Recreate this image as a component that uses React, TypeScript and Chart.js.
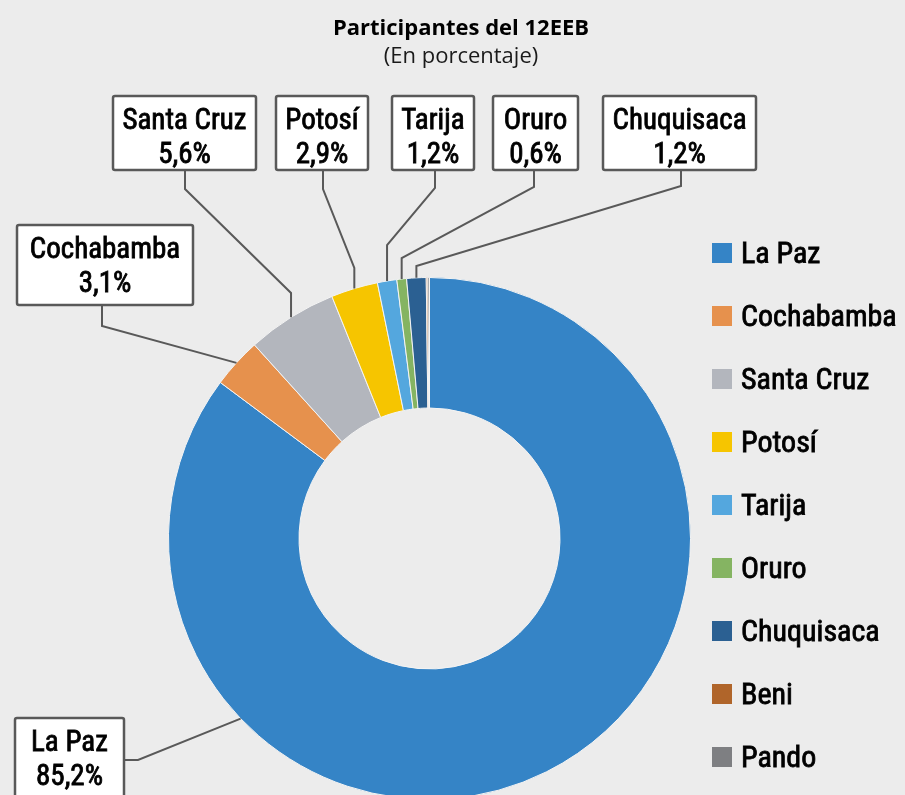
import React, { useEffect, useRef } from "react";
import { Chart, registerables } from "chart.js";

Chart.register(...registerables);

const chartTitle = "Participantes del 12EEB";
const chartSubtitle = "(En porcentaje)";
const categories = ["La Paz", "Cochabamba", "Santa Cruz", "Potosí", "Tarija", "Oruro", "Chuquisaca", "Beni", "Pando"];
const values = [85.2, 3.1, 5.6, 2.9, 1.2, 0.6, 1.2, 0.1, 0.1];
const valueLabels = ["85,2%", "3,1%", "5,6%", "2,9%", "1,2%", "0,6%", "1,2%", "0,1%", "0,1%"];
const colors = ["#3584C6", "#E6914D", "#B3B6BD", "#F6C500", "#54A7DE", "#85B462", "#2B6092", "#B0652A", "#7E7F82"];

// callout layout (box rect x,y,w,h; leader points; where on the arc the leader ends)
const callouts = [
  { i: 0, box: [15, 718, 109, 82], pts: [[124, 760], [138, 760]], elbowY: null, frac: 0.738 },
  { i: 1, box: [17, 225, 176, 80], pts: [[102, 305], [102, 326]], elbowY: null, frac: 0.5 },
  { i: 2, box: [113, 96, 143, 74], pts: [[185, 170], [185, 189]], elbowY: 293, frac: 0.5 },
  { i: 3, box: [276, 96, 92, 74], pts: [[323, 170], [323, 189]], elbowY: 268, frac: 0.5 },
  { i: 4, box: [392, 96, 82, 74], pts: [[435, 170], [435, 188]], elbowY: 245, frac: 0.5 },
  { i: 5, box: [493, 96, 85, 74], pts: [[534, 170], [534, 187]], elbowY: 258, frac: 0.5 },
  { i: 6, box: [603, 96, 153, 74], pts: [[681, 170], [681, 186]], elbowY: 266, frac: 0.5 },
];

const NARROW = "'Liberation Sans Narrow', 'Roboto Condensed', 'DejaVu Sans Condensed', sans-serif";
const BG = "#ECECEC";
const LINE = "#595959";

function heavyText(ctx: CanvasRenderingContext2D, s: string, x: number, y: number) {
  ctx.fillText(s, x, y);
  ctx.strokeText(s, x, y);
}

const decorPlugin = {
  id: "decor",
  beforeDraw(chart: any) {
    const ctx = chart.ctx;
    ctx.save();
    ctx.fillStyle = BG;
    ctx.fillRect(0, 0, chart.width, chart.height);
    ctx.restore();
  },
  afterDatasetsDraw(chart: any) {
    const ctx = chart.ctx;
    const meta = chart.getDatasetMeta(0);
    ctx.save();
    // title
    ctx.fillStyle = "#000";
    ctx.textAlign = "center";
    ctx.textBaseline = "alphabetic";
    ctx.font = "bold 22px 'Open Sans', sans-serif";
    ctx.fillText(chartTitle, 461, 35);
    ctx.fillStyle = "#1a1a1a";
    ctx.font = "22px 'Open Sans', sans-serif";
    ctx.fillText(chartSubtitle, 461, 63);

    // leader lines
    ctx.strokeStyle = LINE;
    ctx.lineWidth = 2;
    ctx.lineJoin = "miter";
    for (const c of callouts) {
      const arc = meta.data[c.i];
      const p = arc.getProps(["x", "y", "startAngle", "endAngle", "outerRadius"], true);
      const ang = p.startAngle + c.frac * (p.endAngle - p.startAngle);
      const ax = p.x + Math.cos(ang) * p.outerRadius;
      const ay = p.y + Math.sin(ang) * p.outerRadius;
      ctx.beginPath();
      ctx.moveTo(c.pts[0][0], c.pts[0][1]);
      for (let k = 1; k < c.pts.length; k++) ctx.lineTo(c.pts[k][0], c.pts[k][1]);
      if (c.elbowY !== null) ctx.lineTo(ax, c.elbowY);
      ctx.lineTo(ax, ay);
      ctx.stroke();
    }
    // boxes
    for (const c of callouts) {
      const [x, y, w, h] = c.box;
      ctx.fillStyle = "#FFFFFF";
      ctx.strokeStyle = LINE;
      ctx.lineWidth = 2.5;
      ctx.beginPath();
      ctx.roundRect(x, y, w, h, 2);
      ctx.fill();
      ctx.stroke();
      ctx.fillStyle = "#000";
      ctx.strokeStyle = "#000";
      ctx.lineWidth = 0.8;
      ctx.textAlign = "center";
      ctx.font = `29px ${NARROW}`;
      heavyText(ctx, categories[c.i], x + w / 2, y + 33);
      heavyText(ctx, valueLabels[c.i], x + w / 2, y + 67);
    }
    // legend
    const lx = 712, ly0 = 253, step = 63;
    ctx.textAlign = "left";
    ctx.font = `30px ${NARROW}`;
    ctx.lineWidth = 0.8;
    categories.forEach((name, k) => {
      const cy = ly0 + k * step;
      ctx.fillStyle = colors[k];
      ctx.fillRect(lx, cy - 10, 20, 20);
      ctx.fillStyle = "#000";
      ctx.strokeStyle = "#000";
      heavyText(ctx, name, 741, cy + 10);
    });
    ctx.restore();
  },
};

export default function App() {
  const ref = useRef<HTMLCanvasElement>(null);
  useEffect(() => {
    if (!ref.current) return;
    const chart = new Chart(ref.current, {
      type: "doughnut",
      data: {
        labels: categories,
        datasets: [
          {
            data: values,
            backgroundColor: colors,
            borderColor: "#F4F4F4",
            borderWidth: 1,
          },
        ],
      },
      options: {
        responsive: false,
        maintainAspectRatio: false,
        animation: false,
        cutout: "50%",
        layout: { padding: { left: 168, right: 214, top: 277, bottom: 30 } },
        plugins: {
          legend: { display: false },
          tooltip: { enabled: false },
          title: { display: false },
        },
      },
      plugins: [decorPlugin],
    });
    return () => chart.destroy();
  }, []);
  return (
    <div style={{ position: "absolute", left: 0, top: 0, width: 905, height: 795, overflow: "hidden", background: BG }}>
      <canvas ref={ref} width={905} height={830} style={{ display: "block", width: 905, height: 830 }} />
    </div>
  );
}
